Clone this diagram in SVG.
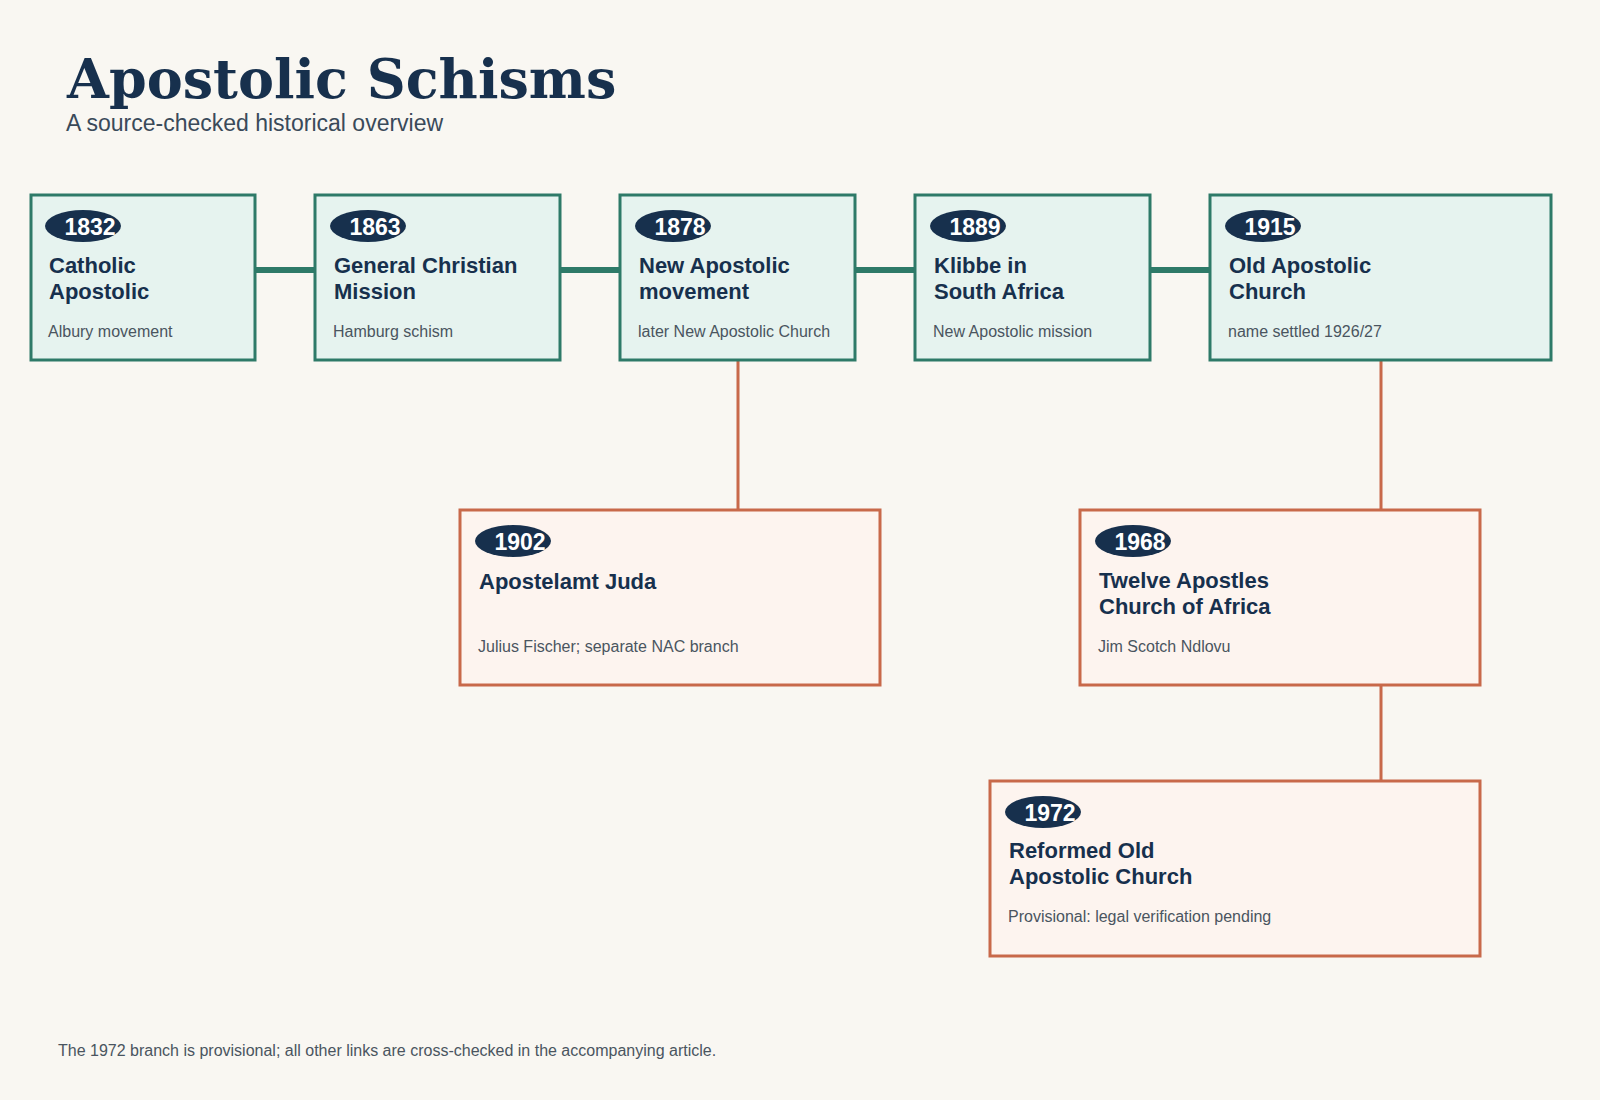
<svg xmlns="http://www.w3.org/2000/svg" width="1600" height="1100" viewBox="0 0 1600 1100">
<style>
text{font-family:"Liberation Sans",Arial,sans-serif}
.t{fill:#e6f3ef;stroke:#2e7a68;stroke-width:3}
.o{fill:#fdf4ef;stroke:#c8694a;stroke-width:3}
.b{fill:#17304d}
.y{fill:#fff;font-weight:bold;font-size:23px;text-anchor:middle}
.h{fill:#17304d;font-weight:bold;font-size:22px}
.s{fill:#4a5560;font-size:16px}
</style>
<rect width="1600" height="1100" fill="#f9f7f2"/>
<text x="67" y="98" font-family="'DejaVu Serif',Georgia,serif" font-weight="bold" font-size="54" fill="#17304d" style="font-family:'DejaVu Serif',Georgia,serif">Apostolic Schisms</text>
<text x="66" y="131" font-size="23" fill="#3a4a5a">A source-checked historical overview</text>
<g id="connectors" fill="none">
<path d="M255 270H315M560 270H620M855 270H915M1150 270H1210" stroke="#2e7a68" stroke-width="6"/>
<path d="M738 360V510M1381 360V510M1381 685V781" stroke="#c8694a" stroke-width="3"/>
</g>
<g id="n1832"><rect class="t" x="31" y="195" width="224" height="165"/><ellipse class="b" cx="83" cy="226" rx="38" ry="16"/><text class="y" x="90" y="235">1832</text><text class="h" x="49" y="273">Catholic</text><text class="h" x="49" y="299">Apostolic</text><text class="s" x="48" y="337">Albury movement</text></g>
<g id="n1863"><rect class="t" x="315" y="195" width="245" height="165"/><ellipse class="b" cx="368" cy="226" rx="38" ry="16"/><text class="y" x="375" y="235">1863</text><text class="h" x="334" y="273">General Christian</text><text class="h" x="334" y="299">Mission</text><text class="s" x="333" y="337">Hamburg schism</text></g>
<g id="n1878"><rect class="t" x="620" y="195" width="235" height="165"/><ellipse class="b" cx="673" cy="226" rx="38" ry="16"/><text class="y" x="680" y="235">1878</text><text class="h" x="639" y="273">New Apostolic</text><text class="h" x="639" y="299">movement</text><text class="s" x="638" y="337">later New Apostolic Church</text></g>
<g id="n1889"><rect class="t" x="915" y="195" width="235" height="165"/><ellipse class="b" cx="968" cy="226" rx="38" ry="16"/><text class="y" x="975" y="235">1889</text><text class="h" x="934" y="273">Klibbe in</text><text class="h" x="934" y="299">South Africa</text><text class="s" x="933" y="337">New Apostolic mission</text></g>
<g id="n1915"><rect class="t" x="1210" y="195" width="341" height="165"/><ellipse class="b" cx="1263" cy="226" rx="38" ry="16"/><text class="y" x="1270" y="235">1915</text><text class="h" x="1229" y="273">Old Apostolic</text><text class="h" x="1229" y="299">Church</text><text class="s" x="1228" y="337">name settled 1926/27</text></g>
<g id="n1902"><rect class="o" x="460" y="510" width="420" height="175"/><ellipse class="b" cx="513" cy="541" rx="38" ry="16"/><text class="y" x="520" y="550">1902</text><text class="h" x="479" y="589">Apostelamt Juda</text><text class="s" x="478" y="652">Julius Fischer; separate NAC branch</text></g>
<g id="n1968"><rect class="o" x="1080" y="510" width="400" height="175"/><ellipse class="b" cx="1133" cy="541" rx="38" ry="16"/><text class="y" x="1140" y="550">1968</text><text class="h" x="1099" y="588">Twelve Apostles</text><text class="h" x="1099" y="614">Church of Africa</text><text class="s" x="1098" y="652">Jim Scotch Ndlovu</text></g>
<g id="n1972"><rect class="o" x="990" y="781" width="490" height="175"/><ellipse class="b" cx="1043" cy="812" rx="38" ry="16"/><text class="y" x="1050" y="821">1972</text><text class="h" x="1009" y="858">Reformed Old</text><text class="h" x="1009" y="884">Apostolic Church</text><text class="s" x="1008" y="922">Provisional: legal verification pending</text></g>
<text x="58" y="1056" font-size="16" fill="#4a5560">The 1972 branch is provisional; all other links are cross-checked in the accompanying article.</text>
</svg>
